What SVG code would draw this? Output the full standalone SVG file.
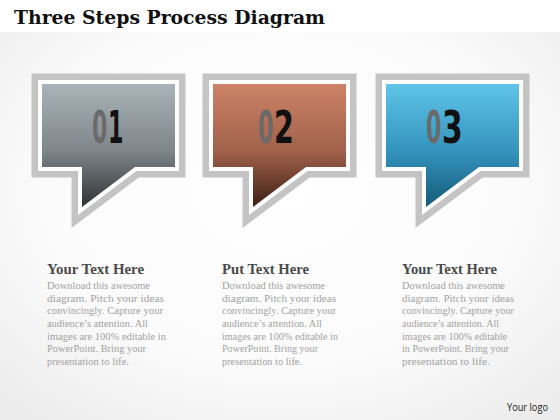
<svg xmlns="http://www.w3.org/2000/svg" width="560" height="420" viewBox="0 0 560 420">
<defs>
<radialGradient id="bg" cx="0.5" cy="0.45" r="0.7">
<stop offset="0" stop-color="#ffffff"/>
<stop offset="0.6" stop-color="#fbfbfb"/>
<stop offset="1" stop-color="#ececec"/>
</radialGradient>
<linearGradient id="g1" x1="0" y1="0" x2="0" y2="1">
<stop offset="0" stop-color="#aab3b8"/>
<stop offset="0.55" stop-color="#7d8589"/>
<stop offset="1" stop-color="#2f3233"/>
</linearGradient>
<linearGradient id="g2" x1="0" y1="0" x2="0" y2="1">
<stop offset="0" stop-color="#cc8367"/>
<stop offset="0.55" stop-color="#a0614a"/>
<stop offset="1" stop-color="#3e1f15"/>
</linearGradient>
<linearGradient id="g3" x1="0" y1="0" x2="0" y2="1">
<stop offset="0" stop-color="#60c4e8"/>
<stop offset="0.55" stop-color="#3493bd"/>
<stop offset="1" stop-color="#145a78"/>
</linearGradient>
<path id="bub" d="M10,84 H143 V167 H103 L50,207 V167 H10 Z"/>
</defs>
<style>
.frame{fill:none;stroke:#c4c4c4;stroke-width:21;stroke-linejoin:miter;stroke-miterlimit:6}
.gap{fill:none;stroke:#ffffff;stroke-width:8;stroke-linejoin:miter;stroke-miterlimit:6}
.num{font-family:"DejaVu Sans Condensed","Liberation Sans Narrow","Liberation Sans",sans-serif;font-weight:bold;font-size:44px}
.z{fill:#6a6a6a}
.d{fill:#111111}
.title{font-family:"DejaVu Serif","Liberation Serif",serif;font-weight:bold;font-size:18.5px;fill:#111111}
.head{font-family:"Liberation Serif",serif;font-weight:bold;font-size:14px;fill:#4a4a4a}
.body{font-family:"Liberation Serif",serif;font-size:11px;fill:#a2a2a2}
.logo{font-family:"Open Sans","Liberation Sans",sans-serif;font-size:10.5px;fill:#222222}
</style>
<rect x="0" y="0" width="560" height="420" fill="url(#bg)"/>
<rect x="0" y="0" width="560" height="32" fill="#ffffff"/>
<text class="title" x="14" y="24" textLength="311" lengthAdjust="spacingAndGlyphs">Three Steps Process Diagram</text>

<g id="step1">
<g transform="translate(32,0)">
<use href="#bub" class="frame"/>
<use href="#bub" class="gap"/>
<use href="#bub" fill="url(#g1)"/>
</g>
<text class="num z" transform="translate(92,143) scale(0.56,1)">0</text>
<text class="num d" transform="translate(108,143) scale(0.56,1)">1</text>
<text class="head" x="47" y="274" textLength="97" lengthAdjust="spacingAndGlyphs">Your Text Here</text>
<g class="body">
<text x="47" y="289" textLength="103" lengthAdjust="spacingAndGlyphs">Download this awesome</text>
<text x="47" y="302" textLength="117" lengthAdjust="spacingAndGlyphs">diagram. Pitch your ideas</text>
<text x="47" y="314" textLength="116" lengthAdjust="spacingAndGlyphs">convincingly. Capture your</text>
<text x="47" y="327" textLength="101" lengthAdjust="spacingAndGlyphs">audience’s attention. All</text>
<text x="47" y="340" textLength="119" lengthAdjust="spacingAndGlyphs">images are 100% editable in</text>
<text x="47" y="352" textLength="99" lengthAdjust="spacingAndGlyphs">PowerPoint. Bring your</text>
<text x="47" y="365" textLength="82" lengthAdjust="spacingAndGlyphs">presentation to life.</text>
</g>
</g>

<g id="step2">
<g transform="translate(203,0)">
<use href="#bub" class="frame"/>
<use href="#bub" class="gap"/>
<use href="#bub" fill="url(#g2)"/>
</g>
<text class="num z" transform="translate(258,143) scale(0.56,1)">0</text>
<text class="num d" transform="translate(274,143) scale(0.72,1)">2</text>
<text class="head" x="222" y="274" textLength="87" lengthAdjust="spacingAndGlyphs">Put Text Here</text>
<g class="body">
<text x="222" y="289" textLength="103" lengthAdjust="spacingAndGlyphs">Download this awesome</text>
<text x="222" y="302" textLength="114" lengthAdjust="spacingAndGlyphs">diagram. Pitch your ideas</text>
<text x="222" y="314" textLength="114" lengthAdjust="spacingAndGlyphs">convincingly. Capture your</text>
<text x="222" y="327" textLength="100" lengthAdjust="spacingAndGlyphs">audience’s attention. All</text>
<text x="222" y="340" textLength="116" lengthAdjust="spacingAndGlyphs">images are 100% editable in</text>
<text x="222" y="352" textLength="96" lengthAdjust="spacingAndGlyphs">PowerPoint. Bring your</text>
<text x="222" y="365" textLength="80" lengthAdjust="spacingAndGlyphs">presentation to life.</text>
</g>
</g>

<g id="step3">
<g transform="translate(376,0)">
<use href="#bub" class="frame"/>
<use href="#bub" class="gap"/>
<use href="#bub" fill="url(#g3)"/>
</g>
<text class="num z" transform="translate(426,143) scale(0.56,1)">0</text>
<text class="num d" transform="translate(442,143) scale(0.75,1)">3</text>
<text class="head" x="402" y="274" textLength="95" lengthAdjust="spacingAndGlyphs">Your Text Here</text>
<g class="body">
<text x="402" y="289" textLength="103" lengthAdjust="spacingAndGlyphs">Download this awesome</text>
<text x="402" y="302" textLength="112" lengthAdjust="spacingAndGlyphs">diagram. Pitch your ideas</text>
<text x="402" y="314" textLength="112" lengthAdjust="spacingAndGlyphs">convincingly. Capture your</text>
<text x="402" y="327" textLength="97" lengthAdjust="spacingAndGlyphs">audience’s attention. All</text>
<text x="402" y="340" textLength="105" lengthAdjust="spacingAndGlyphs">images are 100% editable</text>
<text x="402" y="352" textLength="107" lengthAdjust="spacingAndGlyphs">in PowerPoint. Bring your</text>
<text x="402" y="365" textLength="88" lengthAdjust="spacingAndGlyphs">presentation to life.</text>
</g>
</g>

<text class="logo" x="507" y="411" textLength="41" lengthAdjust="spacingAndGlyphs">Your logo</text>
</svg>
